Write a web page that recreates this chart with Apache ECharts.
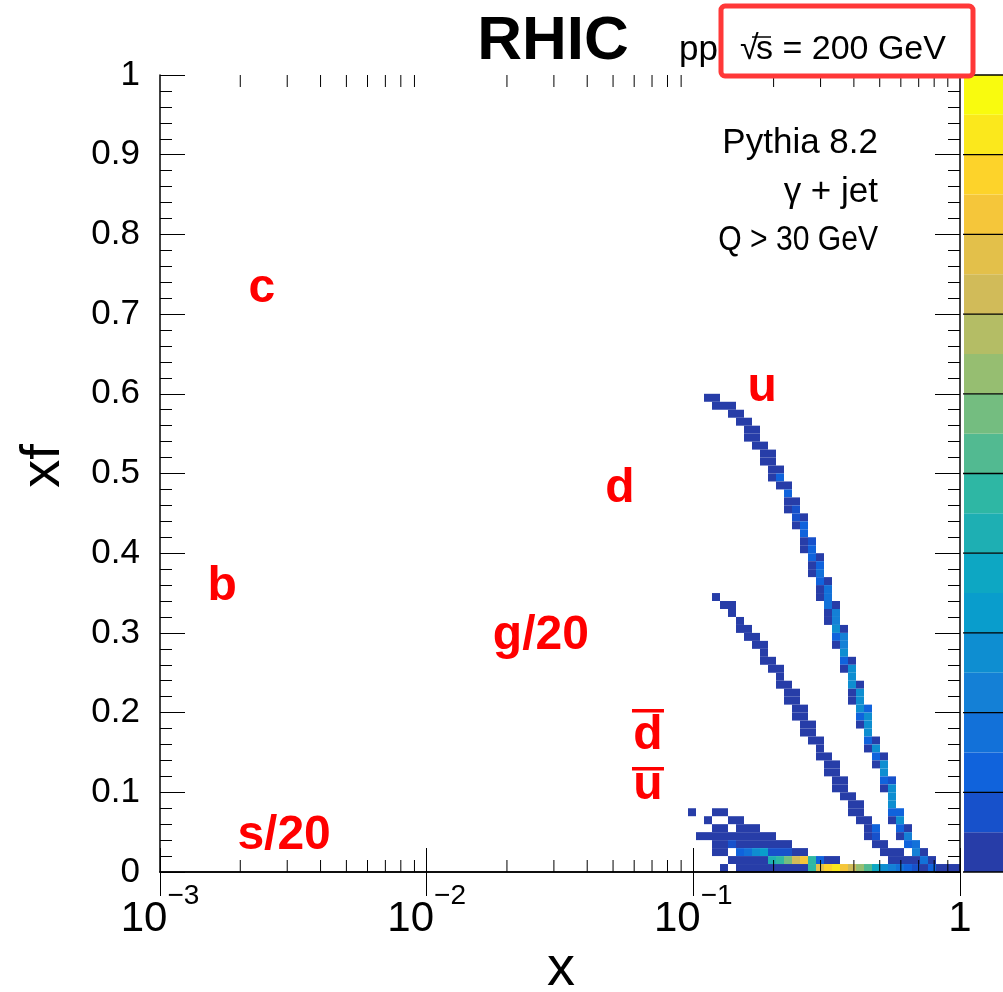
<!DOCTYPE html>
<html><head><meta charset="utf-8">
<script src="https://cdn.jsdelivr.net/npm/echarts@6/dist/echarts.min.js"></script>
<style>html,body{margin:0;padding:0;background:#fff;}#c{width:1003px;height:992px;}</style>
</head><body><div id="c"></div>
<script>
// ---------- binning of the 2D histogram ----------
const xLogMin = -3, xLogMax = 0, nBinsX = 100;   // log10(x) bins
const yMin = 0, yMax = 1, nBinsY = 100;           // xf bins
const nContours = 20;
const colorbarTickEvery = 2;

// ---------- tick labels ----------
const xTickLabels = { '-3': ['10', '\u22123'], '-2': ['10', '\u22122'], '-1': ['10', '\u22121'], '0': ['1', ''] };
const yTickLabels = ['0','0.1','0.2','0.3','0.4','0.5','0.6','0.7','0.8','0.9','1'];

// ---------- kBird palette stops ----------
const paletteStops = [0.0, 0.125, 0.25, 0.375, 0.5, 0.625, 0.75, 0.875, 1.0];
const paletteR = [0.2082, 0.0592, 0.0780, 0.0232, 0.1802, 0.5301, 0.8186, 0.9956, 0.9764];
const paletteG = [0.1664, 0.3599, 0.5041, 0.6419, 0.7178, 0.7492, 0.7328, 0.7862, 0.9832];
const paletteB = [0.5293, 0.8684, 0.8385, 0.7914, 0.6425, 0.4662, 0.3499, 0.1968, 0.0539];

// ---------- histogram cells: [x bin, y bin, colour level] ----------
const cellsUpperBand = [
 [68,59,0],[69,59,0],
 [69,58,0],[70,58,0],[71,58,0],
 [71,57,0],[72,57,0],
 [72,56,0],[73,56,0],
 [73,55,0],[74,55,0],
 [73,54,0],[74,54,0],
 [74,53,0],[75,53,0],
 [75,52,0],[76,52,0],
 [75,51,0],[76,51,0],
 [76,50,0],[77,50,0],
 [76,49,0],[77,49,2],
 [77,48,0],[78,48,0],
 [78,47,2],
 [78,46,0],[79,46,0],
 [78,45,0],[79,45,1],
 [79,44,1],[80,44,0],
 [79,43,0],[80,43,2],
 [80,42,2],
 [80,41,0],[81,41,1],
 [80,40,0],[81,40,2],
 [81,39,2],[82,39,0],
 [81,38,0],[82,38,2],
 [81,37,0],[82,37,3],
 [82,36,2],[83,36,0],
 [82,35,0],[83,35,3],
 [82,34,0],[83,34,3],
 [83,33,3],[84,33,0],
 [83,32,0],[84,32,4],
 [83,31,0],[84,31,4],
 [84,30,5],[85,30,0],
 [84,29,2],[85,29,4],
 [84,28,0],[85,28,4],
 [85,27,5],
 [85,26,2],[86,26,0],
 [85,25,0],[86,25,5],
 [86,24,5],
 [86,23,5],[87,23,0],
 [86,22,0],[87,22,5],
 [86,21,0],[87,21,5],
 [87,20,5],[88,20,2],
 [87,19,2],[88,19,5],
 [87,18,0],[88,18,5],
 [88,17,5],
 [88,16,2],[89,16,0],
 [88,15,0],[89,15,5],
 [89,14,2],[90,14,0],
 [89,13,0],[90,13,5],
 [90,12,5],
 [90,11,2],[91,11,1],
 [90,10,0],[91,10,5],
 [91,9,5],
 [91,8,5],
 [91,7,2],[92,7,2],
 [91,6,0],[92,6,5],
 [92,5,2],[93,5,0],
 [92,4,0],[93,4,4],
 [93,3,2],[94,3,3],
 [94,2,4],[95,2,0],
 [95,1,3],[96,1,0]
];
const cellsMiddleBand = [
 [69,34,0],
 [70,33,0],[71,33,0],
 [71,32,0],
 [72,31,0],
 [72,30,0],[73,30,0],
 [73,29,0],[74,29,0],
 [74,28,0],[75,28,0],
 [75,27,0],
 [75,26,0],[76,26,0],
 [76,25,0],[77,25,0],
 [77,24,0],
 [77,23,0],[78,23,0],
 [78,22,0],[79,22,0],
 [78,21,0],[79,21,0],
 [79,20,0],[80,20,0],
 [79,19,0],[80,19,0],
 [80,18,0],[81,18,0],
 [80,17,0],[81,17,0],
 [81,16,0],[82,16,0],
 [82,15,0],
 [82,14,0],[83,14,0],
 [83,13,0],[84,13,0],
 [83,12,0],[84,12,0],
 [84,11,0],[85,11,0],
 [84,10,0],[85,10,0],
 [85,9,0],[86,9,0],
 [86,8,0],[87,8,0],
 [86,7,0],[87,7,0],
 [87,6,0],[88,6,0],
 [88,5,0],[89,5,2],
 [88,4,0],[89,4,1],
 [89,3,0],[90,3,0],
 [90,2,0],[91,2,0],[92,2,0]
];
const cellsLowBand = [
 [66,7,0],[69,7,0],[70,7,0],
 [68,6,0],[71,6,0],[72,6,0],
 [69,5,0],[70,5,0],[72,5,0],[73,5,0],[74,5,0],
 [67,4,0],[68,4,0],[69,4,0],[70,4,0],[71,4,0],[72,4,0],[73,4,0],[74,4,0],[75,4,0],[76,4,0],
 [69,3,0],[70,3,0],[71,3,1],[72,3,0],[73,3,0],[74,3,0],[75,3,0],[76,3,0],[77,3,0],[78,3,0],
 [69,2,0],[70,2,0],[72,2,2],[73,2,3],[74,2,5],[75,2,6],[76,2,1],[77,2,1],[78,2,1],[79,2,0],[80,2,0],
 [71,1,0],[72,1,0],[73,1,0],[74,1,0],[75,1,0],[76,1,8],[77,1,9],[78,1,11],[79,1,14],[80,1,16],
 [81,1,9],[82,1,2],[83,1,0],[84,1,0],[91,1,0],[92,1,0],[93,1,0],[94,1,0],
 [70,0,0],[72,0,0],[73,0,0],[74,0,0],[75,0,0],[76,0,0],[77,0,0],[78,0,0],[79,0,0],[80,0,0],
 [81,0,9],[82,0,15],[83,0,17],[84,0,18],[85,0,16],[86,0,14],[87,0,12],[88,0,10],[89,0,7],
 [90,0,5],[91,0,4],[92,0,3],[93,0,2],[94,0,1],[95,0,0],[96,0,2],[97,0,0],[98,0,0],[99,0,0]
];

// ---------- parton labels (data coordinates) ----------
const partonLabelText = ['c', 'u', 'd', 'b', 'g/20', 'd', 'u', 's/20'];
const partonLabelX    = [0.00241, 0.181, 0.0531, 0.00171, 0.0268, 0.0676, 0.0676, 0.00292];
const partonLabelY    = [0.7315, 0.607, 0.4806, 0.3576, 0.2961, 0.1706, 0.1079, 0.0452];
const partonLabelBar  = [false, false, false, false, false, true, true, false];

// ---------- text ----------
const infoLines = ['Pythia 8.2', '\u03b3 + jet', 'Q > 30 GeV'];
const titleText = 'RHIC';
const beamText = 'pp';
const energyText = 's = 200 GeV';

// ================= drawing =================
const FONT = "'Liberation Sans', Arial, sans-serif";
const FONTB = "'Liberation Sans', Arial, sans-serif";

function levelColor(l) {
  const f = Math.floor((l + 0.99) * 255 / nContours) / 254;
  let i = 0;
  while (i < paletteStops.length - 2 && f > paletteStops[i + 1]) i++;
  const t = (f - paletteStops[i]) / (paletteStops[i + 1] - paletteStops[i]);
  const c = a => Math.round(255 * (a[i] + t * (a[i + 1] - a[i])));
  return 'rgb(' + c(paletteR) + ',' + c(paletteG) + ',' + c(paletteB) + ')';
}
const bw = (xLogMax - xLogMin) / nBinsX, bh = (yMax - yMin) / nBinsY;
const cellData = cellsUpperBand.concat(cellsMiddleBand, cellsLowBand).map(c => [
  Math.pow(10, xLogMin + c[0] * bw), Math.pow(10, xLogMin + (c[0] + 1) * bw),
  yMin + c[1] * bh, yMin + (c[1] + 1) * bh, c[2]
]);
const minorXTicks = [];
for (let d = xLogMin; d < xLogMax; d++) for (let k = 2; k <= 9; k++) minorXTicks.push([k * Math.pow(10, d), 0]);
const colorLevels = [];
for (let l = 0; l < nContours; l++) colorLevels.push([0, l]);
const labelData = partonLabelText.map((t, i) => [partonLabelX[i], partonLabelY[i], i]);

const chart = echarts.init(document.getElementById('c'));
const axisLineStyle = { color: '#000', width: 1.5 };
chart.setOption({
  animation: false,
  backgroundColor: '#fff',
  grid: [
    { left: 160, top: 75, width: 800, height: 797, show: false },
    { left: 964, top: 75, width: 60, height: 797, show: false }
  ],
  xAxis: [
    { gridIndex: 0, type: 'log', logBase: 10, min: 0.001, max: 1, position: 'bottom', z: 5,
      axisLine: { show: true, lineStyle: axisLineStyle },
      axisTick: { show: true, inside: true, length: 24, lineStyle: { color: '#000', width: 1 } },
      splitLine: { show: false },
      axisLabel: { margin: 10, color: '#000',
        formatter: v => { const e = String(Math.round(Math.log10(v))); const p = xTickLabels[e];
          return p[1] ? '{b|' + p[0] + '}{s|' + p[1] + '}' : '{b|' + p[0] + '}{s|}'; },
        rich: { b: { fontFamily: FONT, fontSize: 42, color: '#000', verticalAlign: 'bottom', lineHeight: 58 },
                s: { fontFamily: FONT, fontSize: 28, color: '#000', verticalAlign: 'top', lineHeight: 58 } } } },
    { gridIndex: 0, type: 'log', logBase: 10, min: 0.001, max: 1, position: 'top', z: 5,
      axisLine: { show: true, lineStyle: axisLineStyle },
      axisTick: { show: true, inside: true, length: 24, lineStyle: { color: '#000', width: 1 } },
      splitLine: { show: false }, axisLabel: { show: false } },
    { gridIndex: 1, type: 'value', min: 0, max: 1, show: false }
  ],
  yAxis: [
    { gridIndex: 0, type: 'value', min: 0, max: 1, interval: 0.1, position: 'left', z: 5,
      axisLine: { show: true, lineStyle: axisLineStyle },
      axisTick: { show: true, inside: true, length: 25, lineStyle: { color: '#000', width: 1 } },
      minorTick: { show: true, splitNumber: 5, length: 12, lineStyle: { color: '#000', width: 1 } },
      splitLine: { show: false },
      axisLabel: { margin: 20, color: '#000', fontFamily: FONT, fontSize: 35,
        formatter: v => yTickLabels[Math.round(v * 10)] } },
    { gridIndex: 0, type: 'value', min: 0, max: 1, interval: 0.1, position: 'right', z: 5,
      axisLine: { show: true, lineStyle: axisLineStyle },
      axisTick: { show: true, inside: true, length: 25, lineStyle: { color: '#000', width: 1 } },
      minorTick: { show: true, splitNumber: 5, length: 12, lineStyle: { color: '#000', width: 1 } },
      splitLine: { show: false }, axisLabel: { show: false } },
    { gridIndex: 1, type: 'value', min: 0, max: nContours, interval: 2, position: 'right', show: false }
  ],
  series: [
    { type: 'custom', xAxisIndex: 0, yAxisIndex: 0, data: cellData, encode: { x: [0, 1], y: [2, 3] }, z: 2,
      renderItem: (p, api) => {
        const a = api.coord([api.value(0), api.value(3)]);
        const b = api.coord([api.value(1), api.value(2)]);
        return { type: 'rect', shape: { x: a[0], y: a[1], width: b[0] - a[0], height: b[1] - a[1] },
          style: { fill: levelColor(api.value(4)) } };
      } },
    { type: 'custom', xAxisIndex: 0, yAxisIndex: 0, data: minorXTicks, encode: { x: 0, y: 1 }, z: 5, silent: true,
      renderItem: (p, api) => {
        const lo = api.coord([api.value(0), 0]);
        const hi = api.coord([api.value(0), 1]);
        const st = { stroke: '#000', lineWidth: 1 };
        return { type: 'group', children: [
          { type: 'line', shape: { x1: lo[0], y1: lo[1], x2: lo[0], y2: lo[1] - 12 }, style: st },
          { type: 'line', shape: { x1: hi[0], y1: hi[1], x2: hi[0], y2: hi[1] + 12 }, style: st } ] };
      } },
    { type: 'custom', xAxisIndex: 2, yAxisIndex: 2, data: colorLevels, encode: { x: 0, y: 1 }, z: 1, silent: true,
      renderItem: (p, api) => {
        const l = api.value(1);
        const a = api.coord([0, l + 1]);
        const b = api.coord([1, l]);
        const kids = [{ type: 'rect', shape: { x: a[0], y: a[1], width: b[0] - a[0], height: b[1] - a[1] },
          style: { fill: levelColor(l) } }];
        if (l % colorbarTickEvery === 0) {
          kids.push({ type: 'line', shape: { x1: b[0] - 40, y1: b[1], x2: b[0], y2: b[1] },
            style: { stroke: '#000', lineWidth: 1.3 } });
        }
        if ((l + 1) === nContours) {
          kids.push({ type: 'line', shape: { x1: b[0] - 40, y1: a[1], x2: b[0], y2: a[1] },
            style: { stroke: '#000', lineWidth: 1.3 } });
        }
        return { type: 'group', children: kids };
      } },
    { type: 'custom', xAxisIndex: 0, yAxisIndex: 0, data: labelData, encode: { x: 0, y: 1 }, z: 6, silent: true,
      renderItem: (p, api) => {
        const i = api.value(2);
        const c = api.coord([api.value(0), api.value(1)]);
        const kids = [{ type: 'text', x: c[0], y: c[1],
          style: { text: partonLabelText[i], font: 'bold 48px ' + FONTB, fill: '#ff0000', align: 'center', verticalAlign: 'middle' } }];
        if (partonLabelBar[i]) {
          const off = partonLabelText[i] === 'd' ? 27 : 19;
          kids.push({ type: 'rect', shape: { x: c[0] - 16, y: c[1] - off, width: 32, height: 3.5 }, style: { fill: '#ff0000' } });
        }
        return { type: 'group', children: kids };
      } }
  ],
  graphic: [
    { type: 'text', x: 553, y: 42, style: { text: titleText, font: 'bold 62px ' + FONTB, fill: '#000', align: 'center', verticalAlign: 'middle' } },
    { type: 'text', x: 679, y: 50, style: { text: beamText, font: '35px ' + FONT, fill: '#000', align: 'left', verticalAlign: 'middle' } },
    { type: 'text', x: 740, y: 50, style: { text: '\u221a', font: '34px ' + FONT, fill: '#000', align: 'left', verticalAlign: 'middle' } },
    { type: 'line', shape: { x1: 752, y1: 37, x2: 771, y2: 37 }, style: { stroke: '#000', lineWidth: 1.5 } },
    { type: 'text', x: 756, y: 50, style: { text: energyText, font: '34px ' + FONT, fill: '#000', align: 'left', verticalAlign: 'middle' } },
    { type: 'rect', shape: { x: 721, y: 6, width: 252, height: 70, r: 4 }, style: { fill: 'none', stroke: '#ff3838', lineWidth: 5 }, z: 100 },
    { type: 'text', x: 878, y: 143, style: { text: infoLines[0], font: '35px ' + FONT, fill: '#000', align: 'right', verticalAlign: 'middle' } },
    { type: 'text', x: 878, y: 192, style: { text: infoLines[1], font: '35px ' + FONT, fill: '#000', align: 'right', verticalAlign: 'middle' } },
    { type: 'text', x: 878, y: 240, scaleX: 0.86, style: { text: infoLines[2], font: '35px ' + FONT, fill: '#000', align: 'right', verticalAlign: 'middle' } },
    { type: 'text', x: 561, y: 970, style: { text: 'x', font: '56px ' + FONT, fill: '#000', align: 'center', verticalAlign: 'middle' } },
    { type: 'text', x: 44, y: 466, rotation: Math.PI / 2, style: { text: 'xf', font: '56px ' + FONT, fill: '#000', align: 'center', verticalAlign: 'middle' } }
  ]
});
</script></body></html>
